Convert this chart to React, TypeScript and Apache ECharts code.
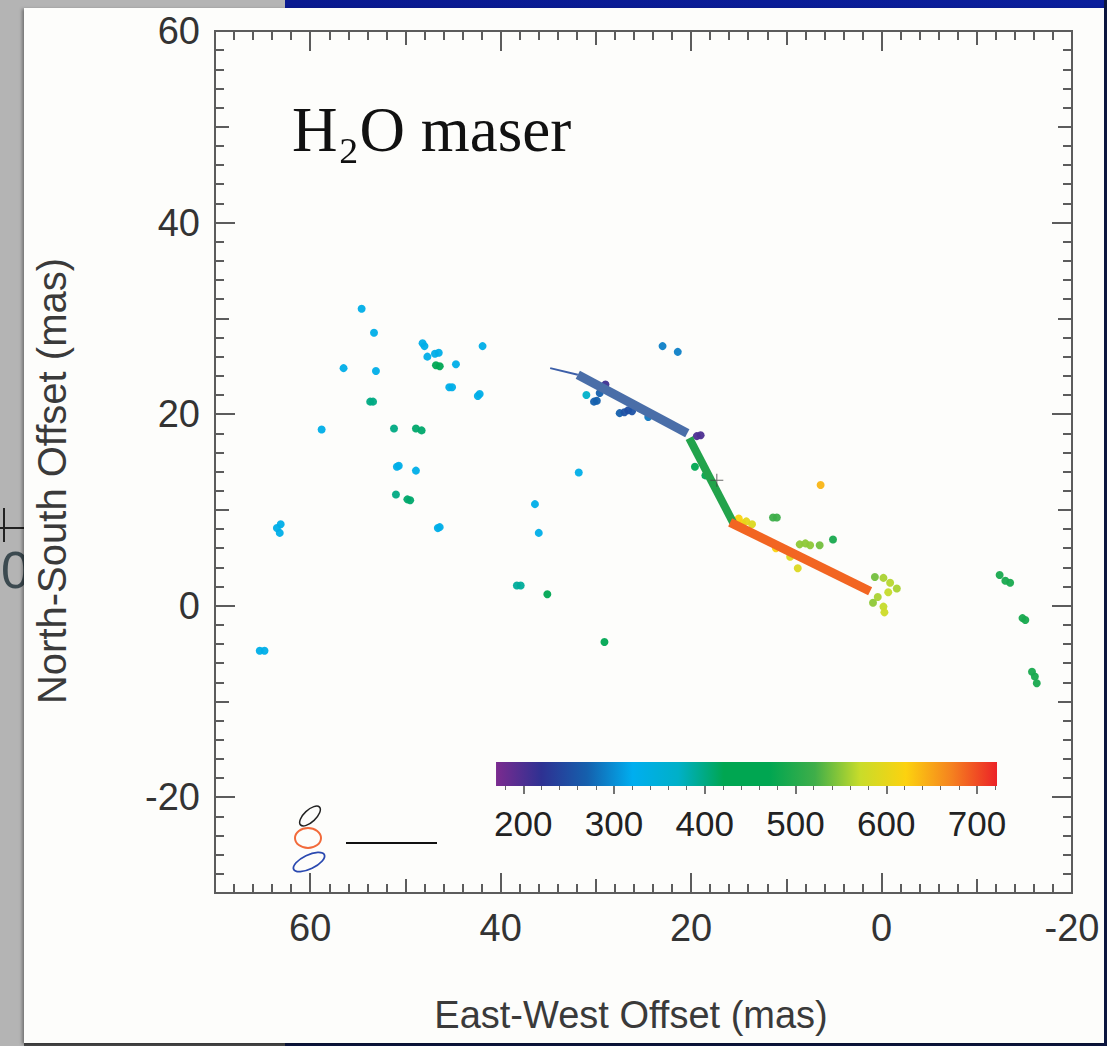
import React, { useEffect, useRef } from "react";
import * as echarts from "echarts";

// ---------- data ----------
const X_MIN = -20;
const X_MAX = 70;
const Y_MIN = -30;
const Y_MAX = 60;
const X_TICK_LABELS = [60, 40, 20, 0, -20];
const Y_TICK_LABELS = [60, 40, 20, 0, -20];

const VEL_MIN = 170;
const VEL_MAX = 722;
const COLORBAR_LABELS = [200, 300, 400, 500, 600, 700];
const COLORBAR_MINOR = [180, 220, 240, 260, 280, 320, 340, 360, 380, 420, 440, 460, 480, 520, 540, 560, 580, 620, 640, 660, 680, 720];
const COLORBAR_COLORS = [
  "#7b2b8f", "#2e3192", "#1560ad", "#00aeef", "#00b0c8", "#00a651",
  "#00a651", "#3fae49", "#c9dc2a", "#fcd20f", "#f5821f", "#ec2227",
];

// maser spots: [East-West offset, North-South offset, velocity]
const MASER_SPOTS = [
  [54.6, 31.0, 330], [53.3, 28.5, 330], [56.5, 24.8, 330], [53.1, 24.5, 330],
  [53.7, 21.3, 400], [53.4, 21.3, 400],
  [48.2, 27.4, 330], [48.0, 27.1, 330], [47.7, 26.0, 330], [46.9, 26.3, 330], [46.5, 26.4, 330],
  [46.8, 25.1, 420], [46.4, 25.0, 420], [44.7, 25.2, 330],
  [45.4, 22.8, 330], [45.1, 22.8, 330], [42.4, 21.9, 330], [42.2, 22.1, 330], [41.9, 27.1, 330],
  [58.8, 18.4, 330], [51.2, 18.5, 400], [48.9, 18.5, 410], [48.3, 18.3, 410],
  [50.7, 14.6, 330], [50.9, 14.5, 330], [48.9, 14.1, 330],
  [51.0, 11.6, 400], [49.8, 11.1, 410], [49.5, 11.0, 410],
  [63.1, 8.5, 330], [63.5, 8.1, 330], [63.2, 7.6, 330],
  [46.6, 8.1, 330], [46.4, 8.2, 330],
  [65.3, -4.7, 330], [64.8, -4.7, 330],
  [23.0, 27.1, 290], [21.4, 26.5, 290],
  [31.0, 22.0, 370], [29.9, 21.4, 270], [30.2, 21.3, 270], [29.6, 22.2, 270], [29.0, 23.1, 210],
  [27.5, 20.1, 270], [27.0, 20.2, 255], [26.6, 20.4, 250], [26.2, 20.3, 255], [25.4, 20.6, 270], [24.5, 19.7, 285],
  [19.4, 17.7, 200], [19.0, 17.8, 200],
  [31.8, 13.9, 330], [36.4, 10.6, 330], [36.0, 7.6, 330],
  [38.3, 2.1, 390], [37.9, 2.1, 390], [35.1, 1.2, 420], [29.1, -3.8, 420],
  [19.6, 14.5, 450], [18.5, 13.6, 450],
  [6.4, 12.6, 640],
  [15.6, 8.9, 630], [15.0, 9.1, 620], [14.6, 8.6, 615], [14.2, 8.8, 600], [13.6, 8.5, 590],
  [11.4, 9.2, 520], [11.0, 9.2, 520],
  [8.6, 6.4, 550], [8.0, 6.5, 550], [7.5, 6.3, 550], [6.5, 6.3, 540], [5.1, 6.9, 490],
  [9.6, 5.1, 590], [8.8, 3.9, 590], [11.1, 6.0, 620],
  [0.7, 3.0, 540], [-0.2, 2.9, 560], [-0.9, 2.4, 565], [-1.6, 1.8, 560], [-0.7, 1.4, 570],
  [0.4, 0.9, 560], [-0.2, -0.1, 570], [0.9, 0.3, 550], [-0.3, -0.7, 575],
  [-12.4, 3.2, 490], [-13.5, 2.4, 490], [-13.0, 2.6, 490],
  [-14.8, -1.3, 490], [-15.1, -1.5, 490],
  [-15.8, -6.9, 490], [-16.1, -7.4, 490], [-16.3, -8.1, 490],
];

const THIN_BLUE_SEG = [[34.8, 24.8], [31.9, 24.1]];
const BLUE_SEG = [[31.9, 24.1], [20.4, 18.0]];
const GREEN_SEG = [[20.2, 17.5], [15.6, 8.7]];
const ORANGE_SEG = [[15.9, 8.7], [1.2, 1.5]];
const REF_CROSS = [[17.3, 13.1]];

// ---------- styling ----------
const SANS = "'Liberation Sans', Arial, Helvetica, sans-serif";
const AXIS_COLOR = "#5c5c5c";
const LABEL_COLOR = "#333333";

function frameAxis(dim: "x" | "y", position: string, extra: any, tick: any, label?: any) {
  const isX = dim === "x";
  return {
    type: "value",
    gridIndex: 0,
    min: isX ? X_MIN : Y_MIN,
    max: isX ? X_MAX : Y_MAX,
    inverse: isX,
    position,
    ...extra,
    axisLine: { show: true, onZero: false, lineStyle: { color: AXIS_COLOR, width: 2 } },
    axisTick: { show: true, inside: true, lineStyle: { color: AXIS_COLOR, width: 2 }, ...tick },
    axisLabel: label || { show: false },
    splitLine: { show: false },
    minorTick: { show: false },
  };
}

function buildOption() {
  const xLabel = {
    show: true,
    customValues: X_TICK_LABELS,
    fontSize: 38,
    color: LABEL_COLOR,
    fontFamily: SANS,
    margin: 16,
  };
  const yLabel = {
    show: true,
    customValues: Y_TICK_LABELS,
    fontSize: 38,
    color: LABEL_COLOR,
    fontFamily: SANS,
    margin: 15,
  };
  const xAxes = [
    frameAxis("x", "bottom", {}, { length: 20, customValues: X_TICK_LABELS }, xLabel),
    frameAxis("x", "bottom", { interval: 10 }, { length: 14 }),
    frameAxis("x", "bottom", { interval: 2 }, { length: 9 }),
    frameAxis("x", "top", {}, { length: 20, customValues: X_TICK_LABELS }),
    frameAxis("x", "top", { interval: 10 }, { length: 14 }),
    frameAxis("x", "top", { interval: 2 }, { length: 9 }),
    {
      type: "value", gridIndex: 1, min: 100, max: 800, position: "bottom",
      axisLine: { show: false },
      axisTick: { show: true, inside: false, length: 8, customValues: COLORBAR_LABELS, lineStyle: { color: "#444", width: 1.5 } },
      axisLabel: { show: true, customValues: COLORBAR_LABELS, fontSize: 35, color: "#222", fontFamily: SANS, margin: 20 },
      splitLine: { show: false },
    },
    {
      type: "value", gridIndex: 1, min: 100, max: 800, position: "bottom",
      axisLine: { show: false },
      axisTick: { show: true, inside: false, length: 4, customValues: COLORBAR_MINOR, lineStyle: { color: "#666", width: 1 } },
      axisLabel: { show: false },
      splitLine: { show: false },
    },
  ];
  const yAxes = [
    frameAxis("y", "left", {}, { length: 20, customValues: Y_TICK_LABELS }, yLabel),
    frameAxis("y", "left", { interval: 10 }, { length: 14 }),
    frameAxis("y", "left", { interval: 2 }, { length: 9 }),
    frameAxis("y", "right", {}, { length: 20, customValues: Y_TICK_LABELS }),
    frameAxis("y", "right", { interval: 10 }, { length: 14 }),
    frameAxis("y", "right", { interval: 2 }, { length: 9 }),
    { type: "value", gridIndex: 1, min: 0, max: 1, show: false },
  ];

  const lineSeries = (data: number[][], color: string, width: number) => ({
    type: "line",
    xAxisIndex: 0,
    yAxisIndex: 0,
    data,
    symbol: "none",
    lineStyle: { color, width, cap: "butt" },
    z: 5,
  });

  const stops = COLORBAR_COLORS.map((c, i) => ({ offset: i / (COLORBAR_COLORS.length - 1), color: c }));

  return {
    animation: false,
    backgroundColor: "transparent",
    grid: [
      { left: 215, top: 31, width: 857, height: 862, containLabel: false },
      { left: 432.5, top: 762, width: 635.3, height: 24, containLabel: false },
    ],
    xAxis: xAxes,
    yAxis: yAxes,
    visualMap: {
      type: "continuous",
      show: false,
      seriesIndex: 0,
      dimension: 2,
      min: VEL_MIN,
      max: VEL_MAX,
      inRange: { color: COLORBAR_COLORS },
    },
    series: [
      {
        type: "scatter",
        xAxisIndex: 0,
        yAxisIndex: 0,
        data: MASER_SPOTS,
        symbol: "circle",
        symbolSize: 8,
        itemStyle: { opacity: 0.95 },
        z: 3,
      },
      lineSeries(THIN_BLUE_SEG, "#3d5fa8", 2),
      lineSeries(BLUE_SEG, "#4a6ea8", 9),
      lineSeries(GREEN_SEG, "#22a34b", 8),
      lineSeries(ORANGE_SEG, "#f26522", 9),
      {
        type: "scatter",
        xAxisIndex: 0,
        yAxisIndex: 0,
        data: REF_CROSS,
        symbol: "path://M0,4.6H10V5.4H0Z M4.6,0H5.4V10H4.6Z",
        symbolSize: 13,
        itemStyle: { color: "#444" },
        z: 6,
      },
      {
        type: "custom",
        xAxisIndex: 6,
        yAxisIndex: 6,
        data: [[VEL_MIN, VEL_MAX]],
        encode: { x: [0, 1] },
        renderItem: (params: any, api: any) => {
          const p0 = api.coord([api.value(0), 1]);
          const p1 = api.coord([api.value(1), 0]);
          return {
            type: "rect",
            shape: { x: p0[0], y: p0[1], width: p1[0] - p0[0], height: p1[1] - p0[1] },
            style: { fill: new echarts.graphic.LinearGradient(0, 0, 1, 0, stops) },
          };
        },
      },
    ],
    graphic: [
      {
        type: "text",
        x: 292,
        y: 130,
        style: {
          text: "H₂O maser",
          font: "63px 'Liberation Serif', 'Times New Roman', serif",
          fill: "#111",
          align: "left",
          verticalAlign: "middle",
        },
      },
      {
        type: "text",
        x: 631,
        y: 1015,
        style: {
          text: "East-West Offset (mas)",
          font: `38px ${SANS}`,
          fill: "#3a3a3a",
          align: "center",
          verticalAlign: "middle",
        },
      },
      {
        type: "text",
        x: 52,
        y: 481,
        rotation: Math.PI / 2,
        style: {
          text: "North-South Offset (mas)",
          font: `40px ${SANS}`,
          fill: "#3a3a3a",
          align: "center",
          verticalAlign: "middle",
        },
      },
      {
        type: "ellipse",
        x: 310,
        y: 816,
        rotation: 0.75,
        shape: { cx: 0, cy: 0, rx: 13, ry: 6 },
        style: { fill: "none", stroke: "#222", lineWidth: 1.5 },
      },
      {
        type: "ellipse",
        x: 308,
        y: 838,
        shape: { cx: 0, cy: 0, rx: 13, ry: 10 },
        style: { fill: "none", stroke: "#f26a3a", lineWidth: 2 },
      },
      {
        type: "ellipse",
        x: 309,
        y: 862,
        rotation: 0.45,
        shape: { cx: 0, cy: 0, rx: 17, ry: 7 },
        style: { fill: "none", stroke: "#2a49b0", lineWidth: 1.8 },
      },
      {
        type: "line",
        shape: { x1: 346, y1: 843, x2: 437, y2: 843 },
        style: { stroke: "#111", lineWidth: 2 },
      },
    ],
  };
}

export default function App() {
  const ref = useRef<HTMLDivElement>(null);
  useEffect(() => {
    if (!ref.current) return;
    const chart = echarts.init(ref.current, null, { renderer: "svg" });
    chart.setOption(buildOption() as any);
    return () => chart.dispose();
  }, []);
  return (
    <div style={{ position: "fixed", left: 0, top: 0, width: 1107, height: 1046, background: "#b4b4b4", overflow: "hidden" }}>
      {/* neighbouring figure fragment on the left */}
      <div style={{ position: "absolute", left: 0, top: 500, width: 24, height: 110, overflow: "hidden" }}>
        <div style={{ position: "absolute", left: 0, top: 27, width: 24, height: 2, background: "#222" }} />
        <div style={{ position: "absolute", left: 3, top: 8, width: 2, height: 34, background: "#222" }} />
        <div style={{ position: "absolute", left: 1, top: 44, fontFamily: SANS, fontSize: 52, lineHeight: "52px", color: "#3c4a50" }}>0</div>
      </div>
      {/* top blue band */}
      <div style={{ position: "absolute", left: 285, top: 0, width: 822, height: 8, background: "linear-gradient(90deg,#0a1a90,#0b1f9c)" }} />
      {/* right navy strip */}
      <div style={{ position: "absolute", left: 1104, top: 0, width: 3, height: 1046, background: "#0c1640" }} />
      {/* bottom strips */}
      <div style={{ position: "absolute", left: 24, top: 1043, width: 261, height: 3, background: "#4a4a4a" }} />
      <div style={{ position: "absolute", left: 285, top: 1043, width: 822, height: 3, background: "#0c1640" }} />
      {/* white card */}
      <div style={{ position: "absolute", left: 24, top: 8, width: 1080, height: 1035, background: "#fdfdfb", boxShadow: "-2px 1px 3px rgba(0,0,0,0.35)" }} />
      <div ref={ref} style={{ position: "absolute", left: 0, top: 0, width: 1107, height: 1046 }} />
    </div>
  );
}
